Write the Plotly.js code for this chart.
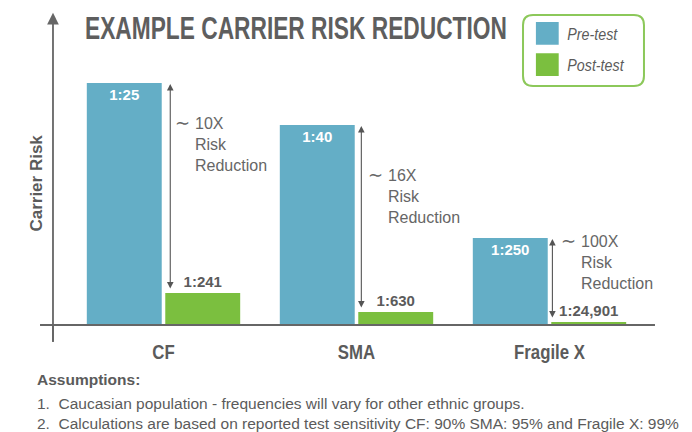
<!DOCTYPE html>
<html>
<head>
<meta charset="utf-8">
<script src="https://cdn.plot.ly/plotly-3.0.1.min.js"></script>
<style>html,body{margin:0;padding:0;background:#fff}#chart{width:692px;height:432px}</style>
</head>
<body>
<div id="chart"></div>
<script>
// ---- data ----
const categories = ["CF", "SMA", "Fragile X"];
const preValues = [242, 200, 87];      // relative bar heights
const postValues = [32, 13, 3];
const preLabels = ["1:25", "1:40", "1:250"];
const postLabels = ["1:241", "1:630", "1:24,901"];
const reductionLabels = ["10X", "16X", "100X"];
const seriesNames = ["Pre-test", "Post-test"];
const footnotes = [
  "1.  Caucasian population - frequencies will vary for other ethnic groups.",
  "2.  Calculations are based on reported test sensitivity CF: 90% SMA: 95% and Fragile X: 99%"
];

// ---- styling ----
const BLUE = "#64aec6", GREEN = "#7bbf3f", GRAY = "#5b5b5b";
const sans = "'Liberation Sans', Arial, sans-serif";

const traces = [
  {type: "bar", name: seriesNames[0], x: categories, y: preValues,
   marker: {color: BLUE}, text: preLabels, textposition: "inside",
   insidetextanchor: "end", textangle: 0,
   textfont: {family: sans, size: 15, color: "#ffffff", weight: "bold"},
   cliponaxis: false, hoverinfo: "skip", legendgroup: "a"},
  {type: "bar", name: seriesNames[1], x: categories, y: postValues,
   marker: {color: GREEN}, text: postLabels, textposition: "outside", textangle: 0,
   textfont: {family: sans, size: 15, color: GRAY, weight: "bold"},
   cliponaxis: false, hoverinfo: "skip", legendgroup: "b"}
];

const annotations = [];
// per-group annotation placement (pixel offsets below pre-bar top)
const textDrop = [30, 40, -7];
categories.forEach((c, i) => {
  const arrowX = i + 0.035 - i * 0.01;
  annotations.push({x: arrowX, y: preValues[i] - 1, ax: arrowX, ay: postValues[i] + 3,
    xref: "x", yref: "y", axref: "x", ayref: "y", text: "", showarrow: true,
    arrowhead: 2, startarrowhead: 2, arrowside: "end+start", arrowsize: 1.2, startarrowsize: 1.2,
    arrowwidth: 1.1, arrowcolor: "#555"});
  const yTop = preValues[i] - textDrop[i];
  annotations.push({x: i + 0.152, y: yTop, xref: "x", yref: "y", xanchor: "left", yanchor: "top",
    align: "left", showarrow: false,
    text: reductionLabels[i] + "<br>Risk<br>Reduction",
    font: {family: sans, size: 16, color: "#666"}});
  annotations.push({x: i + 0.15, y: yTop - 10, xref: "x", yref: "y", xanchor: "right", yanchor: "middle",
    showarrow: false, text: "∼", font: {family: sans, size: 18, color: "#666"}});
});
// y axis arrow (axis line)
annotations.push({x: -0.0242, y: 1.115, xref: "paper", yref: "paper", ax: 0, ay: 330,
  axref: "pixel", ayref: "pixel", text: "", showarrow: true, arrowhead: 2, arrowsize: 1.3,
  arrowwidth: 1.8, arrowcolor: "#666"});
// y axis title
annotations.push({x: -0.0725, y: 0.507, xref: "paper", yref: "paper", textangle: -90,
  showarrow: false, text: "Carrier Risk",
  font: {family: sans, size: 17, color: GRAY, weight: "bold"}});
// footnotes
annotations.push({x: -0.0553, y: -0.196, xref: "paper", yref: "paper", xanchor: "left", yanchor: "middle",
  showarrow: false, text: "<b>Assumptions:</b>", font: {family: sans, size: 15.5, color: GRAY}});
footnotes.forEach((t, i) => {
  annotations.push({x: -0.0553, y: -0.279 - i * 0.072, xref: "paper", yref: "paper",
    xanchor: "left", yanchor: "middle", showarrow: false, text: t,
    font: {family: sans, size: 15.5, color: GRAY}});
});

// rounded legend box path (paper coords)
function roundRect(x0, y0, x1, y1, rx, ry) {
  return `M ${x0 + rx} ${y1} L ${x1 - rx} ${y1} Q ${x1} ${y1} ${x1} ${y1 - ry} ` +
         `L ${x1} ${y0 + ry} Q ${x1} ${y0} ${x1 - rx} ${y0} L ${x0 + rx} ${y0} ` +
         `Q ${x0} ${y0} ${x0} ${y0 + ry} L ${x0} ${y1 - ry} Q ${x0} ${y1} ${x0 + rx} ${y1} Z`;
}

const layout = {
  width: 692, height: 432,
  margin: {l: 67, r: 46, t: 45, b: 107},
  paper_bgcolor: "#fff", plot_bgcolor: "#fff",
  title: {text: "EXAMPLE CARRIER RISK REDUCTION", x: 85 / 692, xanchor: "left",
    y: 1 - 28 / 432, yanchor: "middle",
    font: {family: sans, size: 32, color: "#5e5e5e", weight: "bold"}},
  barmode: "group", bargap: 0.187, bargroupgap: 0.045,
  xaxis: {type: "category", range: [-0.5, 2.5], showgrid: false, zeroline: false, showline: false,
    ticks: "", ticklabelstandoff: 12,
    tickfont: {family: sans, size: 21, color: GRAY, weight: "bold"}, fixedrange: true},
  yaxis: {range: [0, 280], showgrid: false, zeroline: false, showline: false,
    showticklabels: false, ticks: "", fixedrange: true},
  showlegend: true,
  legend: {x: 0.795, y: 1.104, xanchor: "left", yanchor: "top", bgcolor: "rgba(0,0,0,0)",
    borderwidth: 0, font: {family: sans, size: 17, color: GRAY, style: "italic"},
    tracegroupgap: 6, itemwidth: 30},
  shapes: [
    {type: "line", xref: "paper", yref: "paper", x0: -0.0466, x1: 1.0155, y0: 0, y1: 0,
     line: {color: "#666", width: 2}},
    {type: "line", xref: "paper", yref: "paper", x0: -0.0242, x1: -0.0242, y0: -0.0607, y1: 0,
     line: {color: "#666", width: 1.8}},
    {type: "path", xref: "paper", yref: "paper",
     path: roundRect(0.7876, 0.8536, 0.9965, 1.1071, 0.0173, 0.0357),
     line: {color: "#8cc85a", width: 2}, fillcolor: "rgba(0,0,0,0)", layer: "below"}
  ],
  annotations: annotations
};

// squeeze text horizontally about its left/center anchor (mimics the condensed original typeface)
function squeeze(el, factor) {
  const bb = el.getBBox();
  if (!bb.width) return;
  const anchor = el.getAttribute("text-anchor");
  const ox = anchor === "start" ? bb.x : anchor === "end" ? bb.x + bb.width : bb.x + bb.width / 2;
  const prev = el.getAttribute("transform") || "";
  el.setAttribute("transform",
    `${prev} translate(${ox},0) scale(${factor},1) translate(${-ox},0)`);
}

Plotly.newPlot("chart", traces, layout, {staticPlot: true, displayModeBar: false}).then(gd => {
  const t = gd.querySelector(".gtitle");
  if (t) squeeze(t, 422 / t.getBBox().width);
  gd.querySelectorAll(".xtick text").forEach(e => squeeze(e, 0.8));
  gd.querySelectorAll(".legendtext").forEach(e => squeeze(e, 0.84));
  // bigger legend swatches, as in the original
  gd.querySelectorAll(".legendpoints path").forEach(p => {
    const prev = p.getAttribute("transform") || "";
    p.setAttribute("transform", prev + " scale(1.9)");
  });
});
</script>
</body>
</html>
